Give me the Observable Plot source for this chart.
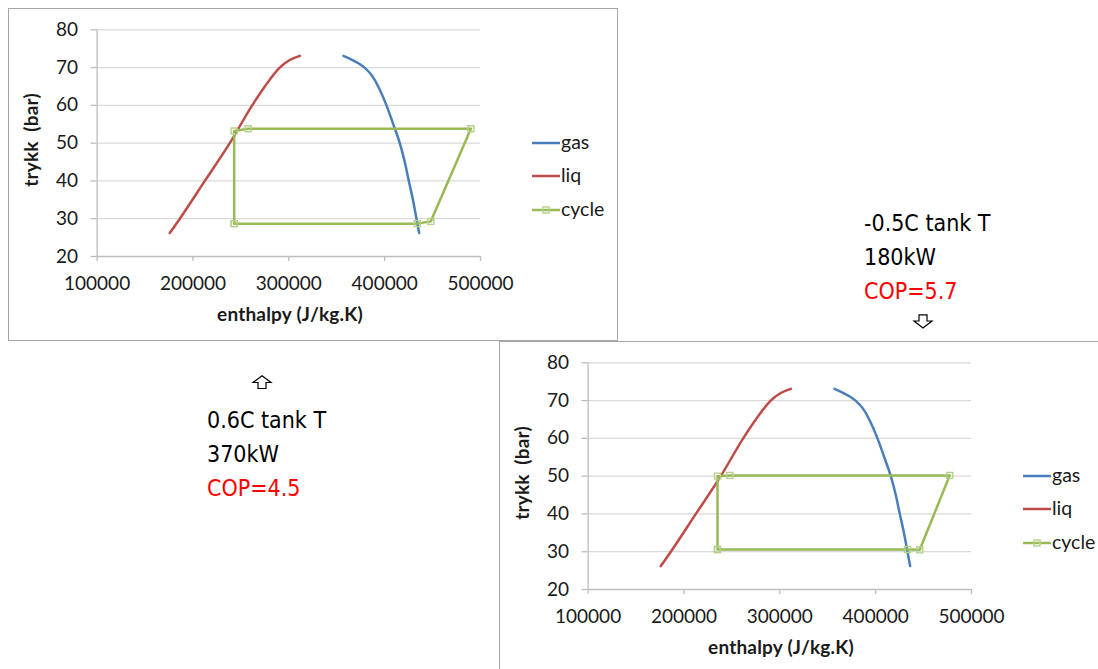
<!DOCTYPE html>
<html>
<head>
<meta charset="utf-8">
<script src="https://cdn.jsdelivr.net/npm/d3@7"></script>
<script src="https://cdn.jsdelivr.net/npm/@observablehq/plot@0.6"></script>
<style>
  html, body { margin: 0; padding: 0; background: #fff; }
  #page { position: relative; width: 1098px; height: 669px; overflow: hidden; background: #fff; }
  .box { position: absolute; border: 1px solid #a6a6a6; background: #fff; box-sizing: border-box; }
  .box svg.plot { position: absolute; left: 0; top: 0; }
  .xt, .yt { position: absolute; font-family: Lato, sans-serif; font-weight: bold; font-size: 19px; letter-spacing: 0.2px; color: #1a1a1a; white-space: pre; line-height: 1; }
  .xt { transform: translate(-50%, -50%); }
  .yt { transform: translate(-50%, -50%) rotate(-90deg); }
  .leg { position: absolute; font-family: Lato, sans-serif; font-size: 19.5px; color: #1a1a1a; line-height: 1; }
  .leg svg { position: absolute; }
  .leg span { position: absolute; transform: translateY(-55%); }
  .note { position: absolute; font-family: "DejaVu Sans Condensed", "DejaVu Sans", sans-serif; font-stretch: condensed; font-size: 23px; line-height: 34px; color: #000; white-space: pre; }
  .note .red { color: #ff0000; }
  .arrow { position: absolute; overflow: visible; }
</style>
</head>
<body>
<div id="page"></div>
<script>
// ---- data ----
const xTicks = [100000, 200000, 300000, 400000, 500000];
const yTicks = [20, 30, 40, 50, 60, 70, 80];

// saturated liquid line (enthalpy J/kg, pressure bar)
const liqH = [175800, 186300, 212400, 238400, 261800, 275000, 290500, 301000, 311500];
const liqP = [26.2, 30, 40, 50, 60, 65, 70, 72, 73.1];

// saturated gas line
const gasH = [357000, 366500, 373500, 379000, 387000, 393300, 401900, 409000, 415800, 421000, 425200, 429500, 433200, 436000];
const gasP = [73.1, 72, 71, 70, 67.8, 65, 60, 55, 50, 45, 40, 35, 30, 26.2];

// cycle, chart 1 (0.6C tank T)
const cycle1H = [243000, 243000, 257600, 490000, 448200, 434000, 243000];
const cycle1P = [28.7, 53.2, 53.8, 53.8, 29.3, 28.7, 28.7];

// cycle, chart 2 (-0.5C tank T)
const cycle2H = [235000, 235000, 247800, 477300, 446000, 433200, 235000];
const cycle2P = [30.6, 50.0, 50.2, 50.2, 30.5, 30.6, 30.6];

const seriesNames = ["gas", "liq", "cycle"];
const colors = {gas: "#4a7ebb", liq: "#be4b48", cycle: "#98b954"};
const markerColor = "#b4d28a";

const notes1 = ["0.6C tank T", "370kW", "COP=4.5"];
const notes2 = ["-0.5C tank T", "180kW", "COP=5.7"];

const xTitle = "enthalpy (J/kg.K)";
const yTitle = "trykk\u00a0 (bar)";

// ---- build ----
const zip = (hs, ps) => hs.map((h, i) => ({h, p: ps[i]}));
const liq = zip(liqH, liqP);
const gas = zip(gasH, gasP);

const page = document.getElementById("page");

function makeChart(left, top, w, h, cycH, cycP) {
  const box = document.createElement("div");
  box.className = "box";
  box.style.left = left + "px";
  box.style.top = top + "px";
  box.style.width = w + "px";
  box.style.height = h + "px";
  page.appendChild(box);

  const cyc = zip(cycH, cycP);
  const chart = Plot.plot({
    width: 520,
    height: 325,
    marginLeft: 87.6,
    marginTop: 20.3,
    marginRight: 49,
    marginBottom: 78,
    x: {domain: [100000, 500000]},
    y: {domain: [20, 80]},
    style: {fontFamily: "Lato, sans-serif", fontSize: "19px", background: "transparent", color: "#1a1a1a", overflow: "visible"},
    marks: [
      Plot.ruleY(yTicks.slice(1), {stroke: "#d9d9d9", strokeWidth: 1.3}),
      Plot.ruleY([20], {stroke: "#bdbdbd", strokeWidth: 1.3}),
      Plot.ruleX([100000], {stroke: "#bdbdbd", strokeWidth: 1.3}),
      Plot.axisX(xTicks, {tickSize: 5, tickPadding: 15, tickFormat: d => String(d), stroke: "#bdbdbd", strokeWidth: 1.3, label: null}),
      Plot.axisY(yTicks, {tickSize: 6, tickPadding: 13, stroke: "#bdbdbd", strokeWidth: 1.3, label: null}),
      Plot.line(liq, {x: "h", y: "p", stroke: colors.liq, strokeWidth: 2.5, curve: "monotone-x"}),
      Plot.line(gas, {x: "h", y: "p", stroke: colors.gas, strokeWidth: 2.5, curve: "monotone-x"}),
      Plot.line(cyc, {x: "h", y: "p", stroke: colors.cycle, strokeWidth: 2.5}),
      Plot.dot(cyc, {x: "h", y: "p", symbol: "square", r: 3.4, stroke: markerColor, strokeWidth: 1.4, fill: "none"})
    ]
  });
  chart.classList.add("plot");
  box.appendChild(chart);

  const xt = document.createElement("div");
  xt.className = "xt";
  xt.textContent = xTitle;
  xt.style.left = "281px";
  xt.style.top = "304px";
  box.appendChild(xt);

  const yt = document.createElement("div");
  yt.className = "yt";
  yt.textContent = yTitle;
  yt.style.left = "21px";
  yt.style.top = "131px";
  box.appendChild(yt);

  const legYs = [133.5, 167, 200.5];
  seriesNames.forEach((name, i) => {
    const item = document.createElement("div");
    item.className = "leg";
    item.style.left = "523px";
    item.style.top = legYs[i] + "px";
    const s = d3.create("svg").attr("width", 30).attr("height", 10)
      .style("left", "0px").style("top", "-5px");
    s.append("line").attr("x1", 0).attr("x2", 28).attr("y1", 5).attr("y2", 5)
      .attr("stroke", colors[name]).attr("stroke-width", 2.5);
    if (name === "cycle") {
      s.append("rect").attr("x", 11).attr("y", 2).attr("width", 6).attr("height", 6)
        .attr("fill", "none").attr("stroke", markerColor).attr("stroke-width", 1.4);
    }
    item.appendChild(s.node());
    const t = document.createElement("span");
    t.textContent = name;
    t.style.left = "29px";
    t.style.top = "0px";
    item.appendChild(t);
    box.appendChild(item);
  });
}

makeChart(8, 8, 610, 333, cycle1H, cycle1P);
makeChart(499, 341, 620, 340, cycle2H, cycle2P);

function makeNote(left, top, lines) {
  const d = document.createElement("div");
  d.className = "note";
  d.style.left = left + "px";
  d.style.top = top + "px";
  lines.forEach((l, i) => {
    const s = document.createElement("div");
    s.textContent = l;
    if (i === 2) s.className = "red";
    d.appendChild(s);
  });
  page.appendChild(d);
}
makeNote(207, 403, notes1);
makeNote(864, 206, notes2);

function makeArrow(left, top, up) {
  const s = d3.create("svg").attr("class", "arrow").attr("width", 20).attr("height", 15)
    .style("left", left + "px").style("top", top + "px");
  const path = up
    ? "M10,0.8 L19,7.5 L14,7.5 L14,13.5 L6,13.5 L6,7.5 L1,7.5 Z"
    : "M6,0.8 L14,0.8 L14,7 L19,7 L10,14 L1,7 L6,7 Z";
  s.append("path").attr("d", path).attr("fill", "#fff").attr("stroke", "#000").attr("stroke-width", 1.2);
  page.appendChild(s.node());
}
makeArrow(252, 375, true);
makeArrow(913, 314, false);
</script>
</body>
</html>
